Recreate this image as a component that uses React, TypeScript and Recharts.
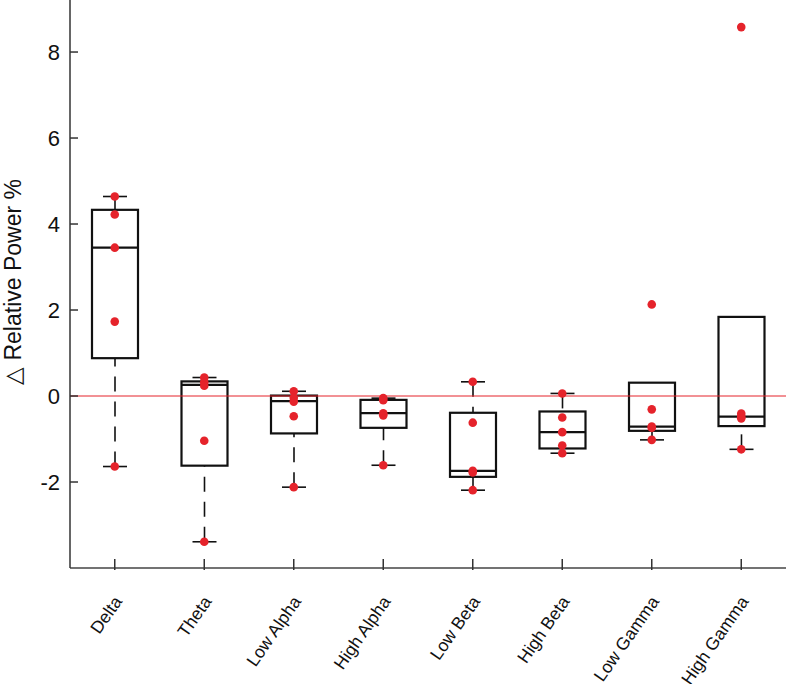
import { ComposedChart, Bar, Scatter, XAxis, YAxis, ReferenceLine } from 'recharts';

const bands = ['Delta', 'Theta', 'Low Alpha', 'High Alpha', 'Low Beta', 'High Beta', 'Low Gamma', 'High Gamma'];

// boxplot stats (5 subjects per band)
const whiskerLow = [-1.64, -3.39, -2.12, -1.61, -2.19, -1.33, -1.02, -1.24];
const q1 = [0.88, -1.62, -0.87, -0.74, -1.88, -1.22, -0.81, -0.7];
const median = [3.45, 0.26, -0.12, -0.4, -1.74, -0.84, -0.71, -0.48];
const q3 = [4.33, 0.34, 0.01, -0.09, -0.39, -0.36, 0.31, 1.84];
const whiskerHigh = [4.64, 0.43, 0.11, -0.05, 0.33, 0.06, 0.31, 1.84];

// individual subject values (red dots)
const subjectValues = [
  [4.64, 4.22, 3.45, 1.73, -1.64],
  [0.43, 0.32, 0.24, -1.04, -3.39],
  [0.11, -0.04, -0.13, -0.47, -2.12],
  [-0.05, -0.1, -0.4, -0.45, -1.61],
  [0.33, -0.62, -1.74, -1.78, -2.19],
  [0.06, -0.5, -0.84, -1.15, -1.33],
  [2.13, -0.31, -0.71, -0.74, -1.02],
  [8.58, -0.41, -0.48, -0.52, -1.24],
];

const yTicks = [-2, 0, 2, 4, 6, 8];

const FONT = '"Liberation Sans", Arial, Helvetica, sans-serif';
const RED = '#e5232b';

const boxData = bands.map((band, i) => ({
  band,
  range: [whiskerLow[i], whiskerHigh[i]],
  wLow: whiskerLow[i],
  q1: q1[i],
  median: median[i],
  q3: q3[i],
  wHigh: whiskerHigh[i],
}));

const dotData = bands.flatMap((band, i) => subjectValues[i].map((v) => ({ band, v })));

const BoxShape = (props: any) => {
  const { x, y, width, height, payload } = props;
  if (payload == null) return null;
  const top = Math.min(y, y + height);
  const bottom = Math.max(y, y + height);
  const span = payload.wHigh - payload.wLow;
  // map a value onto the bar's own pixel range
  const toY = (v: number) => top + ((bottom - top) * (payload.wHigh - v)) / span;
  const cx = x + width / 2;
  const capHalf = 12;
  const yQ1 = toY(payload.q1);
  const yQ3 = toY(payload.q3);
  const yMed = toY(payload.median);
  return (
    <g>
      {payload.wHigh > payload.q3 && (
        <>
          <line x1={cx} x2={cx} y1={top} y2={yQ3} stroke="#111" strokeWidth={1.6} strokeDasharray="15 10" />
          <line x1={cx - capHalf} x2={cx + capHalf} y1={top} y2={top} stroke="#111" strokeWidth={1.6} />
        </>
      )}
      {payload.wLow < payload.q1 && (
        <>
          <line x1={cx} x2={cx} y1={bottom} y2={yQ1} stroke="#111" strokeWidth={1.6} strokeDasharray="15 10" />
          <line x1={cx - capHalf} x2={cx + capHalf} y1={bottom} y2={bottom} stroke="#111" strokeWidth={1.6} />
        </>
      )}
      <rect x={x} y={yQ3} width={width} height={yQ1 - yQ3} fill="none" stroke="#111" strokeWidth={2.2} />
      <line x1={x} x2={x + width} y1={yMed} y2={yMed} stroke="#111" strokeWidth={2.2} />
    </g>
  );
};

const Dot = (props: any) => {
  const { cx, cy } = props;
  if (cx == null || cy == null) return null;
  return <circle cx={cx} cy={cy} r={4.3} fill={RED} />;
};

const YTick = ({ x, y, payload }: any) => (
  <g>
    <line x1={x + 10} x2={x + 18} y1={y} y2={y} stroke="#333" strokeWidth={1.5} />
    <text x={x} y={y} dy="0.35em" textAnchor="end" fontFamily={FONT} fontSize={22} fill="#111">
      {payload.value}
    </text>
  </g>
);

const XTick = ({ x, y, payload }: any) => {
  const tx = x + 3;
  const ty = y + 28;
  return (
    <g>
      <line x1={x} x2={x} y1={y} y2={y - 11} stroke="#333" strokeWidth={1.5} />
      <text
        x={tx}
        y={ty}
        dy="0.35em"
        textAnchor="end"
        fontFamily={FONT}
        fontSize={17.5}
        fill="#111"
        transform={`rotate(-55, ${tx}, ${ty})`}
      >
        {payload.value}
      </text>
    </g>
  );
};

export default function App() {
  return (
    <div style={{ position: 'absolute', left: 0, top: 0, background: '#fff' }}>
      <ComposedChart width={787} height={684} data={boxData} margin={{ top: 0, right: 1, bottom: 0, left: 0 }}>
        <XAxis
          dataKey="band"
          type="category"
          allowDuplicatedCategory={false}
          height={116}
          tickLine={false}
          tickSize={0}
          tick={<XTick />}
          interval={0}
          axisLine={{ stroke: '#444', strokeWidth: 1.5 }}
        />
        <YAxis
          type="number"
          domain={[-4, 9.21]}
          allowDataOverflow
          ticks={yTicks}
          width={70}
          tickLine={false}
          tickSize={0}
          tickMargin={10}
          tick={<YTick />}
          axisLine={{ stroke: '#333', strokeWidth: 1.5 }}
          label={{
            content: () => (
              <text
                x={13}
                y={282}
                textAnchor="middle"
                dominantBaseline="central"
                fontFamily={FONT}
                fontSize={23}
                fill="#111"
                transform="rotate(-90, 13, 282)"
              >
                △ Relative Power %
              </text>
            ),
          }}
        />
        <ReferenceLine y={0} stroke={RED} strokeWidth={1} />
        <Bar dataKey="range" barSize={46} shape={<BoxShape />} isAnimationActive={false} />
        <Scatter data={dotData} dataKey="v" shape={<Dot />} isAnimationActive={false} />
      </ComposedChart>
    </div>
  );
}
